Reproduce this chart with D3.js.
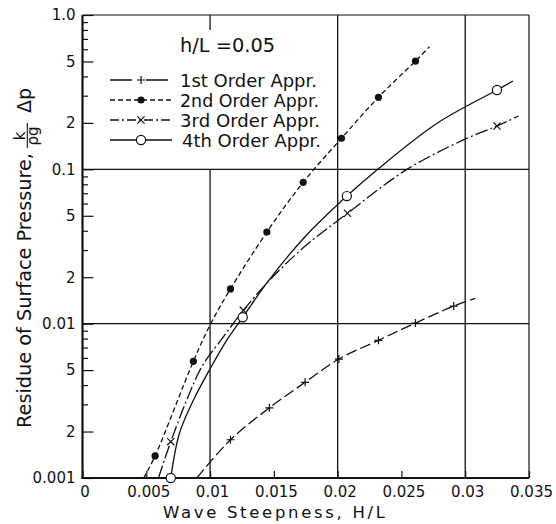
<!DOCTYPE html>
<html><head><meta charset="utf-8">
<script src="https://cdn.jsdelivr.net/npm/d3@7"></script>
<style>
html,body{margin:0;padding:0;background:#fff;}
svg{display:block;}
text{font-family:"DejaVu Sans",sans-serif;fill:#111;}
</style></head><body>
<svg id="chart" width="556" height="524"></svg>
<script>
// ---- data ----
const xTicks = [0, 0.005, 0.01, 0.015, 0.02, 0.025, 0.03, 0.035];
const xTickLabels = ["0", "0.005", "0.01", "0.015", "0.02", "0.025", "0.03", "0.035"];
const xGridFull = [0.02, 0.03];
const xGridPartial = [0.01];
const yLabeled = [1, 0.5, 0.2, 0.1, 0.05, 0.02, 0.01, 0.005, 0.002, 0.001];
const yTickLabels = ["1.0", "5", "2", "0.1", "5", "2", "0.01", "5", "2", "0.001"];
const yMinor = [0.9, 0.8, 0.7, 0.6, 0.4, 0.3, 0.09, 0.08, 0.07, 0.06, 0.04, 0.03,
                0.009, 0.008, 0.007, 0.006, 0.004, 0.003];
const yGrid = [0.1, 0.01];

const seriesNames = ["1st Order Appr.", "2nd Order Appr.", "3rd Order Appr.", "4th Order Appr."];
const paramLabel = "h/L =0.05";
const xTitle = "Wave Steepness, H/L";
const yTitle = "Residue of Surface Pressure,";

const order1Curve = [[0.00896,0.001],[0.0116,0.00177],[0.01465,0.00285],[0.01745,0.00417],[0.0201,0.0059],[0.0232,0.0078],[0.0261,0.0101],[0.0291,0.0130],[0.0308,0.0146]];
const order1Marks = [[0.0116,0.00177],[0.01465,0.00285],[0.01745,0.00417],[0.0201,0.0059],[0.0232,0.0078],[0.0261,0.0101],[0.0291,0.0130]];
const order2Curve = [[0.0048,0.001],[0.00569,0.00139],[0.00869,0.0057],[0.0100,0.0098],[0.0116,0.0168],[0.01445,0.0392],[0.0173,0.0824],[0.0203,0.159],[0.0232,0.293],[0.0261,0.503],[0.0272,0.623]];
const order2Marks = [[0.00569,0.00139],[0.00869,0.0057],[0.0116,0.0168],[0.01445,0.0392],[0.0173,0.0824],[0.0203,0.159],[0.0232,0.293],[0.0261,0.503]];
const order3Curve = [[0.00595,0.001],[0.00692,0.00172],[0.00817,0.0032],[0.00935,0.00526],[0.01104,0.0082],[0.01261,0.0122],[0.0145,0.0185],[0.0173,0.031],[0.02077,0.0519],[0.0254,0.0995],[0.02985,0.155],[0.03249,0.191],[0.03418,0.2215]];
const order3Marks = [[0.00692,0.00172],[0.01261,0.0122],[0.02077,0.0519],[0.03249,0.191]];
const order4Curve = [[0.00692,0.001],[0.0076,0.00195],[0.0087,0.0032],[0.0100,0.0051],[0.0113,0.0078],[0.01256,0.0110],[0.0145,0.0186],[0.0173,0.0355],[0.02072,0.0671],[0.0231,0.0995],[0.0278,0.199],[0.03249,0.3266],[0.03374,0.3735]];
const order4Marks = [[0.00692,0.001],[0.01256,0.0110],[0.02072,0.0671],[0.03249,0.3266]];

// ---- chart ----
const svg = d3.select("#chart");
const L = 82.5, R = 529, T = 15, B = 478;
const x = d3.scaleLinear().domain([0, 0.035]).range([L, R]);
const y = d3.scaleLog().domain([0.001, 1]).range([B, T]);
const ink = "#111";

// grid
const g = svg.append("g");
g.selectAll(".gx").data(xGridFull).enter().append("line")
  .attr("x1", d => x(d)).attr("x2", d => x(d)).attr("y1", T).attr("y2", B)
  .attr("stroke", ink).attr("stroke-width", 1.3);
g.selectAll(".gxp").data(xGridPartial).enter().append("line")
  .attr("x1", d => x(d)).attr("x2", d => x(d)).attr("y1", y(0.1)).attr("y2", B)
  .attr("stroke", ink).attr("stroke-width", 1.3);
g.selectAll(".gxt").data(xGridPartial).enter().append("line")
  .attr("x1", d => x(d)).attr("x2", d => x(d)).attr("y1", T).attr("y2", T + 15)
  .attr("stroke", ink).attr("stroke-width", 1.3);
g.selectAll(".gy").data(yGrid).enter().append("line")
  .attr("x1", L).attr("x2", R).attr("y1", d => y(d)).attr("y2", d => y(d))
  .attr("stroke", ink).attr("stroke-width", 1.3);

// axes
const yAxis = d3.axisLeft(y).tickValues(yLabeled)
  .tickFormat((d, i) => yTickLabels[i]).tickSizeInner(-11).tickSizeOuter(0).tickPadding(7);
const ya = svg.append("g").attr("transform", `translate(${L},0)`).call(yAxis);
const yAxisMinor = d3.axisLeft(y).tickValues(yMinor).tickFormat("").tickSizeInner(-5.5).tickSizeOuter(0);
const ym = svg.append("g").attr("transform", `translate(${L},0)`).call(yAxisMinor);
const xAxis = d3.axisBottom(x).tickValues(xTicks)
  .tickFormat((d, i) => xTickLabels[i]).tickSizeInner(-7).tickSizeOuter(0).tickPadding(8);
const xa = svg.append("g").attr("transform", `translate(0,${B})`).call(xAxis);
[ya, ym, xa].forEach(a => {
  a.select(".domain").remove();
  a.selectAll(".tick line").attr("stroke", ink).attr("stroke-width", 1.2);
  a.selectAll(".tick text").attr("font-family", "DejaVu Sans").attr("font-size", 15).attr("fill", ink);
});
xa.selectAll(".tick text").attr("dx", 2);

// frame
svg.append("line").attr("x1", L).attr("x2", R).attr("y1", T).attr("y2", T).attr("stroke", ink).attr("stroke-width", 1.2);
svg.append("line").attr("x1", R).attr("x2", R).attr("y1", T).attr("y2", B).attr("stroke", ink).attr("stroke-width", 1.2);
svg.append("line").attr("x1", L).attr("x2", L).attr("y1", T).attr("y2", B + 1).attr("stroke", ink).attr("stroke-width", 2.2);
svg.append("line").attr("x1", L - 1).attr("x2", R).attr("y1", B).attr("y2", B).attr("stroke", ink).attr("stroke-width", 2.2);

// series
const series = [
  {curve: order1Curve, marks: order1Marks, dash: "11,4", marker: "plus"},
  {curve: order2Curve, marks: order2Marks, dash: "5,3", marker: "dot"},
  {curve: order3Curve, marks: order3Marks, dash: "13,3,2,3", marker: "x"},
  {curve: order4Curve, marks: order4Marks, dash: null, marker: "circle"}
];
const line = d3.line().x(d => x(d[0])).y(d => y(d[1])).curve(d3.curveCatmullRom.alpha(0.5));

function drawMarker(sel, type, px, py) {
  if (type === "dot") {
    sel.append("circle").attr("cx", px).attr("cy", py).attr("r", 3.6).attr("fill", ink);
  } else if (type === "circle") {
    sel.append("circle").attr("cx", px).attr("cy", py).attr("r", 4.6)
      .attr("fill", "#fff").attr("stroke", ink).attr("stroke-width", 1.2);
  } else if (type === "plus") {
    const s = 4;
    sel.append("path").attr("d", `M${px - s},${py}H${px + s}M${px},${py - s}V${py + s}`)
      .attr("stroke", ink).attr("stroke-width", 1.2).attr("fill", "none");
  } else if (type === "x") {
    const s = 3.6;
    sel.append("path").attr("d", `M${px - s},${py - s}L${px + s},${py + s}M${px - s},${py + s}L${px + s},${py - s}`)
      .attr("stroke", ink).attr("stroke-width", 1.2).attr("fill", "none");
  }
}

series.forEach(s => {
  svg.append("path").datum(s.curve).attr("d", line)
    .attr("fill", "none").attr("stroke", ink).attr("stroke-width", 1.3)
    .attr("stroke-dasharray", s.dash);
});
series.forEach(s => {
  const mg = svg.append("g");
  s.marks.forEach(d => drawMarker(mg, s.marker, x(d[0]), y(d[1])));
});

// legend
svg.append("text").attr("x", 180).attr("y", 52).attr("font-size", 19)
  .attr("textLength", 95).attr("lengthAdjust", "spacingAndGlyphs").text(paramLabel);
const legendWidths = [137, 139, 140, 139];
const legendDash = ["22,14", "5,3", "9,3,2,3", null];
seriesNames.forEach((name, i) => {
  const ly = 80 + i * 20;
  const lg = svg.append("g");
  lg.append("line").attr("x1", 110).attr("x2", 172).attr("y1", ly).attr("y2", ly)
    .attr("stroke", ink).attr("stroke-width", 1.3).attr("stroke-dasharray", legendDash[i]);
  drawMarker(lg, series[i].marker, 141, ly);
  lg.append("text").attr("x", i === 3 ? 182 : 180).attr("y", ly + 6.5).attr("font-size", 17)
    .attr("textLength", legendWidths[i]).attr("lengthAdjust", "spacingAndGlyphs").text(name);
});

// axis titles
svg.append("text").attr("x", 163).attr("y", 518).attr("font-size", 16.5)
  .attr("textLength", 222).attr("lengthAdjust", "spacing").text(xTitle);

const yt = svg.append("g").attr("transform", "translate(31,428) rotate(-90)");
yt.append("text").attr("x", 0).attr("y", 0).attr("font-size", 19)
  .attr("textLength", 275).attr("lengthAdjust", "spacingAndGlyphs").text(yTitle);
yt.append("text").attr("x", 292).attr("y", -6).attr("font-size", 15).attr("text-anchor", "middle").text("k");
yt.append("line").attr("x1", 280).attr("x2", 305).attr("y1", -3.7).attr("y2", -3.7).attr("stroke", ink).attr("stroke-width", 1.1);
yt.append("text").attr("x", 292).attr("y", 7).attr("font-size", 15).attr("text-anchor", "middle").text("ρg");
yt.append("text").attr("x", 315).attr("y", 0).attr("font-size", 19).text("Δp");
</script>
</body></html>
